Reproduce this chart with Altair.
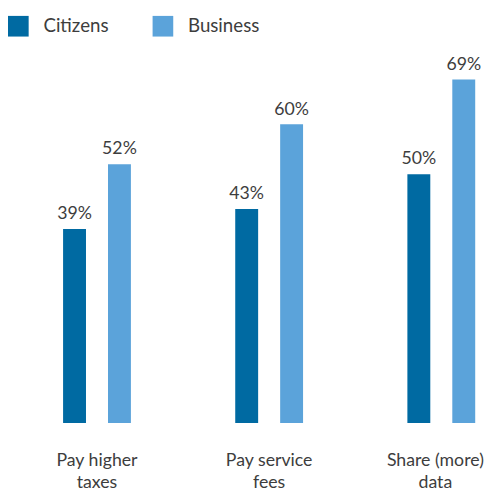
import altair as alt
import pandas as pd

categories = ["Pay higher taxes", "Pay service fees", "Share (more) data"]
category_lines = {
    "Pay higher taxes": ["Pay higher", "taxes"],
    "Pay service fees": ["Pay service", "fees"],
    "Share (more) data": ["Share (more)", "data"],
}
series = ["Citizens", "Business"]
citizens = [39, 43, 50]
business = [52, 60, 69]
colors = ["#006aa2", "#5ba3da"]

rows = []
for c, a, b in zip(categories, citizens, business):
    rows.append({"category": c, "series": "Citizens", "value": a, "label": f"{a}%"})
    rows.append({"category": c, "series": "Business", "value": b, "label": f"{b}%"})
df = pd.DataFrame(rows)

label_expr = " : ".join(
    [f"datum.label == '{k}' ? {v!r}" for k, v in category_lines.items()]
) + " : datum.label"

FONT = "Lato"
TXT = "#3d3d3d"

x = alt.X("category:N", sort=categories, title=None,
          scale=alt.Scale(range=[56, 475], paddingInner=0.606, paddingOuter=0),
          axis=alt.Axis(labelExpr=label_expr, labelAngle=0, domain=False, ticks=False,
                        labelFontSize=18, labelColor=TXT, labelFont=FONT,
                        labelOffset={"condition": {"test": "datum.value == 'Share (more) data'",
                                                   "value": -6}, "value": 0},
                        labelPadding=29, labelLineHeight=22))
xo = alt.XOffset("series:N", sort=series,
                 scale=alt.Scale(paddingInner=0.49, paddingOuter=0))
y = alt.Y("value:Q", scale=alt.Scale(domain=[0, 80]), axis=None)

base = alt.Chart(df).encode(x=x, xOffset=xo, y=y)

bars = base.mark_bar().encode(
    color=alt.Color("series:N", sort=series,
                    scale=alt.Scale(domain=series, range=colors),
                    legend=alt.Legend(title=None, orient="none", direction="horizontal",
                                      legendX=0, legendY=-9,
                                      symbolType="square", symbolSize=441,
                                      symbolStrokeWidth=0, symbolOpacity=1,
                                      labelFontSize=19, labelFont=FONT, labelColor=TXT,
                                      labelOffset=15, columnPadding=44))
)

labels = base.mark_text(baseline="alphabetic", dy=-10, fontSize=18, font=FONT,
                        color=TXT).encode(text="label:N")

chart = (bars + labels).properties(
    width=488, height=405,
    autosize=alt.AutoSizeParams(type="none"),
    padding={"left": 0, "top": 13, "right": 0, "bottom": 66},
).configure_view(stroke=None)

chart.save("out.html", embed_options={"renderer": "svg", "actions": False})
